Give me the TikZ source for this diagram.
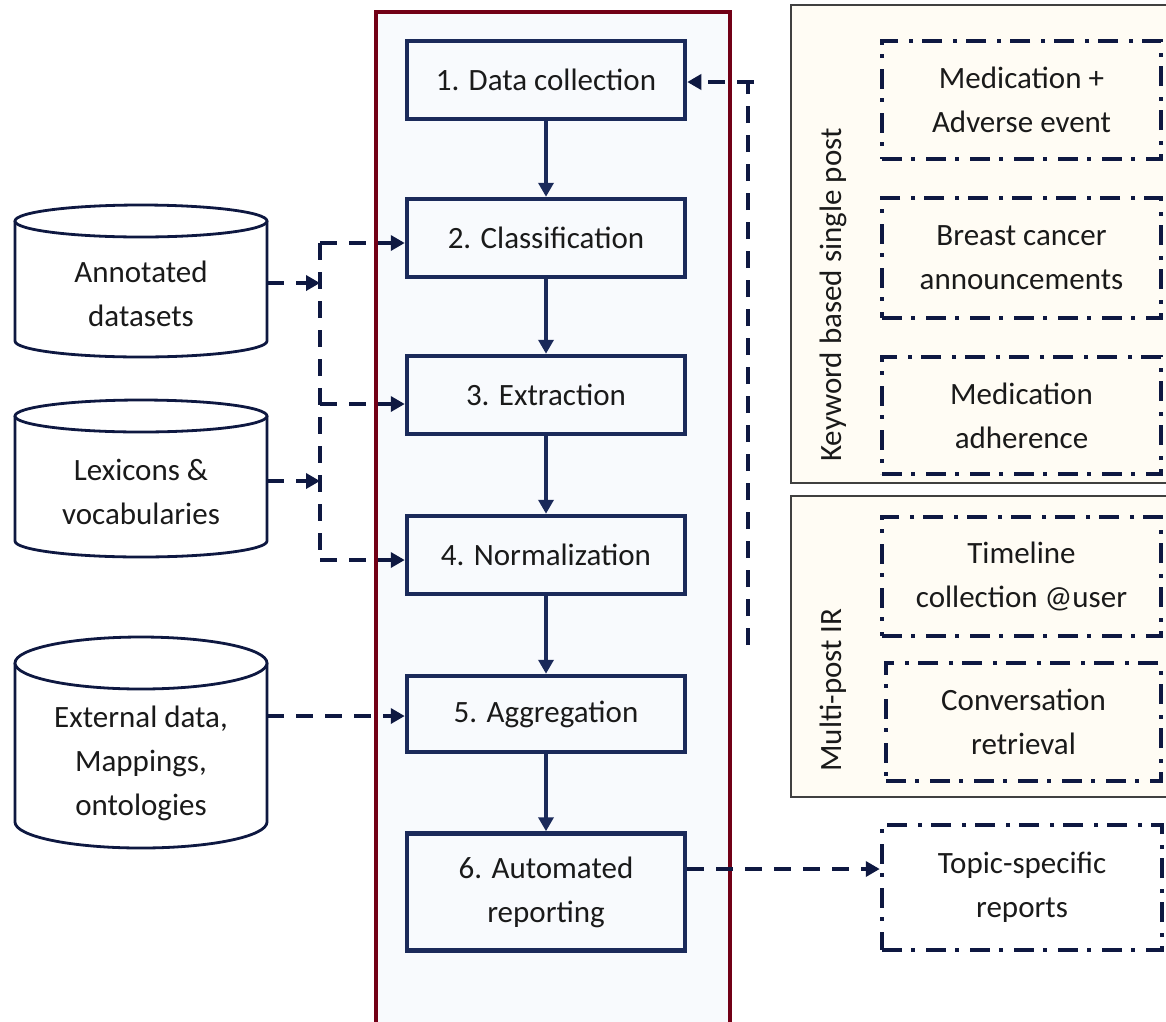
\documentclass[tikz,border=0pt]{standalone}
\usepackage{fontspec}
\setmainfont{Carlito}
\usetikzlibrary{arrows.meta}
\definecolor{navy}{HTML}{1B2A5A}
\definecolor{dnavy}{HTML}{0E1841}
\definecolor{wine}{HTML}{720016}
\definecolor{panelbg}{HTML}{F8FAFD}
\definecolor{cream}{HTML}{FFFCF4}
\definecolor{panelline}{HTML}{404040}
\definecolor{txt}{HTML}{1A1A1A}
\tikzset{
  lbl/.style={font=\fontsize{31}{44}\selectfont, text=txt, align=center, inner sep=0pt},
  proc/.style={lbl, draw=navy, line width=4.5pt, fill=panelbg, minimum width=278pt},
  ddbox/.style={lbl, draw=dnavy, line width=4.5pt, dash pattern=on 20pt off 9pt on 4pt off 11pt},
  flow/.style={draw=navy, line width=4pt, -{Triangle[length=14pt,width=15pt]}},
  dc/.style={draw=dnavy, line width=4pt, dash pattern=on 17pt off 12pt},
  dca/.style={dc, -{Triangle[length=14pt,width=15pt]}},
  cyl/.style={draw=dnavy, line width=2.8pt, fill=white},
  body/.style={inner sep=0pt, minimum width=252pt}
}
\begin{document}
\begin{tikzpicture}[x=1pt,y=-1pt]
\clip (0,0) rectangle (1166,1021);
\useasboundingbox (0,0) rectangle (1166,1021);
\fill[white] (0,0) rectangle (1166,1021);

% central panel
\fill[panelbg] (376,12) rectangle (730,1040);
\draw[wine, line width=4.5pt] (376,1040) -- (376,12) -- (730,12) -- (730,1040);

% right panels
\draw[panelline, line width=1.4pt, fill=cream] (791,5) rectangle (1190,483);
\draw[panelline, line width=1.4pt, fill=cream] (791,496) rectangle (1190,797);
\node[lbl, rotate=90] (kw) at (833,295) {Keyword based single post};
\node[lbl, rotate=90] (mp) at (833,690) {Multi-post IR};

% process boxes
\node[proc, minimum height=78pt] (b1) at (546,80) {1. Data collection};
\node[proc, minimum height=78pt] (b2) at (546,238) {2. Classification};
\node[proc, minimum height=78pt] (b3) at (546,395) {3. Extraction};
\node[proc, minimum height=78pt] (b4) at (546,555) {4. Normalization};
\node[proc, minimum height=76pt] (b5) at (546,714) {5. Aggregation};
\node[proc, minimum height=117pt] (b6) at (546,892) {6. Automated\\reporting};

\draw[flow] (b1.south) -- (b2.north);
\draw[flow] (b2.south) -- (b3.north);
\draw[flow] (b3.south) -- (b4.north);
\draw[flow] (b4.south) -- (b5.north);
\draw[flow] (b5.south) -- (b6.north);

% dash-dot boxes
\node[ddbox, minimum width=279pt, minimum height=118pt] (A) at (1021.5,100) {Medication +\\Adverse event};
\node[ddbox, minimum width=279pt, minimum height=120pt] (B) at (1021.5,258) {Breast cancer\\announcements};
\node[ddbox, minimum width=279pt, minimum height=117pt] (C) at (1021.5,415.5) {Medication\\adherence};
\node[ddbox, minimum width=279pt, minimum height=119pt] (D) at (1021.5,576.5) {Timeline\\collection @user};
\node[ddbox, minimum width=275pt, minimum height=118pt] (E) at (1023.5,722) {Conversation\\retrieval};
\node[ddbox, minimum width=280pt, minimum height=125pt] (T) at (1022,887.5) {Topic-specific\\reports};

% cylinders
\draw[cyl] (15,221) -- (15,341) arc[start angle=180, end angle=360, x radius=126pt, y radius=16pt] -- (267,221);
\draw[cyl] (141,221) ellipse [x radius=126pt, y radius=16pt];
\node[body, minimum height=120pt] (ann) at (141,283) {};
\node[lbl] (annt) at (141,294) {Annotated\\datasets};

\draw[cyl] (15,416) -- (15,541) arc[start angle=180, end angle=360, x radius=126pt, y radius=16pt] -- (267,416);
\draw[cyl] (141,416) ellipse [x radius=126pt, y radius=16pt];
\node[body, minimum height=125pt] (lex) at (141,481) {};
\node[lbl] (lext) at (141,492) {Lexicons \&\\vocabularies};

\draw[cyl] (15,663) -- (15,822) arc[start angle=180, end angle=360, x radius=126pt, y radius=26pt] -- (267,663);
\draw[cyl] (141,663) ellipse [x radius=126pt, y radius=26pt];
\node[body, minimum height=159pt] (ext) at (141,742) {};
\node[lbl] (extt) at (141,763) {External data,\\Mappings,\\ontologies};

% left dashed connectors
\coordinate (jtop) at (320,243);
\coordinate (jmid) at (320,404);
\coordinate (jbot) at (320,560);
\draw[dc] (jtop) -- (jbot);
\draw[dca] (jtop) -- (jtop -| b2.west);
\draw[dca] (jmid) -- (jmid -| b3.west);
\draw[dca] (jbot) -- (jbot -| b4.west);
\draw[dca] (ann.east) -- (ann.east -| jtop);
\draw[dca] (lex.east) -- (lex.east -| jtop);
\draw[dca] (ext.east |- 0,716) -- (b5.west |- 0,716);

% right dashed connector into data collection
\coordinate (rbot) at (748,645);
\coordinate (rtop) at (754,82);
\draw[dc] (rbot) -- (rbot |- rtop);
\draw[dca] (rtop) -- (rtop -| b1.east);

% reporting to topic-specific reports
\draw[dca] (b6.east |- 0,869) -- (T.west |- 0,869);
\end{tikzpicture}
\end{document}
